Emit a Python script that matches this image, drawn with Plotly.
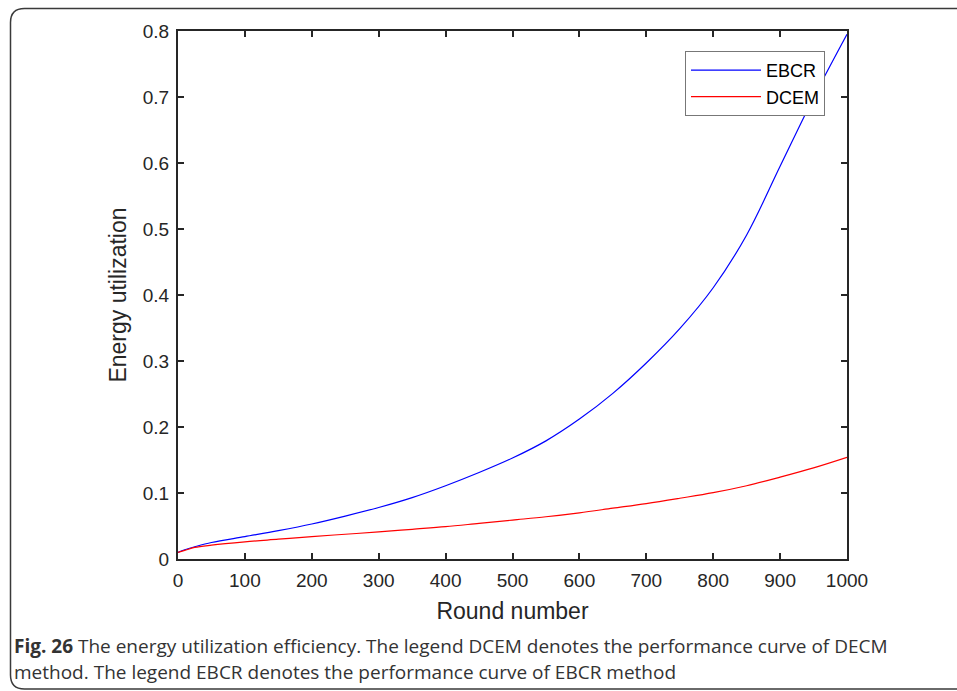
import plotly.graph_objects as go

rounds = [0, 10, 25, 50, 100, 150, 200, 250, 300, 350, 400, 450, 500, 550, 600,
          650, 700, 750, 800, 850, 900, 950, 1000]
ebcr = [0.010, 0.014, 0.0185, 0.025, 0.034, 0.043, 0.053, 0.065, 0.078, 0.093, 0.111,
        0.131, 0.153, 0.179, 0.212, 0.251, 0.297, 0.349, 0.411, 0.491, 0.595, 0.699, 0.795]
dcem = [0.010, 0.013, 0.0175, 0.021, 0.026, 0.030, 0.034, 0.0375, 0.041, 0.045, 0.049,
        0.054, 0.059, 0.064, 0.070, 0.077, 0.084, 0.092, 0.1005, 0.111, 0.124, 0.138, 0.154]
x_ticks = [0, 100, 200, 300, 400, 500, 600, 700, 800, 900, 1000]
y_ticks = [0, 0.1, 0.2, 0.3, 0.4, 0.5, 0.6, 0.7, 0.8]
y_tick_text = ["0", "0.1", "0.2", "0.3", "0.4", "0.5", "0.6", "0.7", "0.8"]

W, H = 957, 691
L, R, T, B = 178, 110, 31, 132
PW, PH = W - L - R, H - T - B

def px(x):
    return (x - L) / PW

def py(y):
    return (H - B - y) / PH

fig = go.Figure()
fig.add_trace(go.Scatter(x=rounds, y=ebcr, mode="lines", name="EBCR",
                         line=dict(color="#0000ff", width=1.2, shape="spline", smoothing=1.0)))
fig.add_trace(go.Scatter(x=rounds, y=dcem, mode="lines", name="DCEM",
                         line=dict(color="#ff0000", width=1.2, shape="spline", smoothing=1.0)))

axis_common = dict(showline=True, linecolor="#262626", linewidth=2, mirror="ticks",
                   ticks="inside", ticklen=6, tickwidth=2, tickcolor="#262626",
                   showgrid=False, zeroline=False, ticklabelstandoff=3,
                   tickfont=dict(family="Liberation Sans, Arial", size=19, color="#262626"))

fig.update_xaxes(range=[0, 1000], tickvals=x_ticks,
                 title=dict(text="Round number", standoff=13,
                            font=dict(family="Liberation Sans, Arial", size=23, color="#262626")),
                 **axis_common)
fig.update_yaxes(range=[0, 0.8], tickvals=y_ticks, ticktext=y_tick_text,
                 title=dict(text="Energy utilization", standoff=10,
                            font=dict(family="Liberation Sans, Arial", size=23, color="#262626")),
                 **axis_common)

# rounded outer frame
x0, x1 = px(10.5), px(975)
y0, y1 = py(8.5), py(689)
rx, ry = 14 / PW, 14 / PH
path = (f"M {x0} {y0 - ry} L {x0} {y1 + ry} Q {x0} {y1} {x0 + rx} {y1} "
        f"L {x1} {y1} L {x1} {y0} L {x0 + rx} {y0} Q {x0} {y0} {x0} {y0 - ry} Z")
fig.add_shape(type="path", path=path, xref="paper", yref="paper",
              line=dict(color="#3a3a3a", width=1.5), layer="below")

fig.add_annotation(xref="paper", yref="paper", x=px(12), y=py(646), xanchor="left", yanchor="middle",
                   showarrow=False, align="left",
                   text="<b>Fig. 26</b> The energy utilization efficiency. The legend DCEM denotes the performance curve of DECM",
                   font=dict(family="Open Sans", size=19, color="#333333"))
fig.add_annotation(xref="paper", yref="paper", x=px(12), y=py(672), xanchor="left", yanchor="middle",
                   showarrow=False, align="left",
                   text="method. The legend EBCR denotes the performance curve of EBCR method",
                   font=dict(family="Open Sans", size=19, color="#333333"))

fig.update_layout(width=W, height=H, margin=dict(l=L, r=R, t=T, b=B),
                  paper_bgcolor="white", plot_bgcolor="white",
                  legend=dict(x=px(685), y=py(51), xanchor="left", yanchor="top",
                              bgcolor="white", bordercolor="#777777", borderwidth=1,
                              itemwidth=70,
                              font=dict(family="Liberation Sans, Arial", size=18, color="#000000"),
                              tracegroupgap=0))

fig.write_html("out.html")
